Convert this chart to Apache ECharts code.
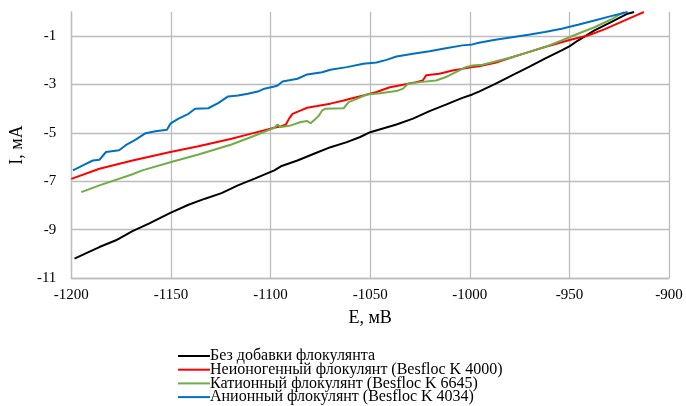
<!DOCTYPE html>
<html>
<head>
<meta charset="utf-8">
<script src="https://cdn.jsdelivr.net/npm/echarts@6/dist/echarts.min.js"></script>
<style>
html,body{margin:0;padding:0;background:#fff;}
#chart{width:686px;height:406px;}
</style>
</head>
<body>
<div id="chart"></div>
<script>
const seriesNames = [
  'Без добавки флокулянта',
  'Неионогенный флокулянт (Besfloc K 4000)',
  'Катионный флокулянт (Besfloc K 6645)',
  'Анионный флокулянт (Besfloc K 4034)'
];
const xTitle = 'E, мВ';
const yTitle = 'I, мА';

const blackE = [-1198.4,-1192.5,-1185.9,-1177.6,-1169.3,-1161.1,-1150.3,-1141.2,-1132.9,-1124.6,-1116.4,-1108,-1098.1,-1094.8,-1086.5,-1078.2,-1069.9,-1061.7,-1055,-1050,-1036.8,-1028.5,-1020.2,-1012,-1003.7,-998.7,-995.4,-987.2,-978.8,-970.5,-962.3,-953.9,-949.8,-945.7,-937.4,-929.1,-920.8,-917.5];
const blackI = [-10.20,-9.97,-9.72,-9.44,-9.06,-8.75,-8.31,-7.97,-7.72,-7.49,-7.17,-6.89,-6.55,-6.38,-6.14,-5.86,-5.59,-5.38,-5.17,-4.97,-4.65,-4.41,-4.10,-3.83,-3.55,-3.41,-3.29,-2.97,-2.62,-2.28,-1.93,-1.59,-1.41,-1.18,-0.76,-0.42,-0.07,0.0];

const redE = [-1200,-1185.9,-1169.3,-1150.3,-1136.2,-1119.6,-1109.7,-1098.1,-1094.8,-1092.3,-1090.7,-1089,-1084.8,-1081.6,-1076.6,-1070,-1063.3,-1060,-1053.4,-1046.8,-1040.1,-1033.5,-1026.9,-1023.6,-1021.9,-1015.3,-1008.7,-998.7,-995.4,-987.2,-978.8,-970.5,-962.3,-953.9,-949,-940.7,-932.5,-924.2,-915.9,-912.6];
const redI = [-6.90,-6.48,-6.14,-5.79,-5.55,-5.24,-5.03,-4.79,-4.73,-4.65,-4.41,-4.21,-4.07,-3.96,-3.89,-3.79,-3.66,-3.59,-3.45,-3.31,-3.11,-3.01,-2.90,-2.83,-2.62,-2.55,-2.42,-2.28,-2.24,-2.10,-1.87,-1.66,-1.45,-1.25,-1.14,-0.97,-0.72,-0.42,-0.12,0.0];

const greenE = [-1195,-1185.9,-1169.3,-1164.4,-1150.3,-1136.2,-1119.6,-1109.7,-1098.1,-1096.5,-1094.8,-1089.8,-1084.8,-1081.6,-1079.9,-1077.3,-1075.7,-1074.1,-1072.4,-1063.3,-1060.8,-1056.7,-1051.7,-1045.1,-1036.8,-1033.5,-1031,-1025.2,-1016.9,-1012,-1007,-1002,-998.7,-993.7,-987.2,-978.8,-970.5,-962.3,-953.9,-945.7,-937.4,-929.1,-922.5];
const greenI = [-7.45,-7.17,-6.71,-6.55,-6.21,-5.89,-5.48,-5.17,-4.79,-4.65,-4.76,-4.69,-4.55,-4.51,-4.60,-4.41,-4.28,-4.07,-4.00,-3.98,-3.73,-3.59,-3.41,-3.36,-3.27,-3.17,-2.97,-2.90,-2.83,-2.69,-2.49,-2.28,-2.21,-2.18,-2.05,-1.87,-1.66,-1.45,-1.18,-0.90,-0.63,-0.31,0.0];

const blueE = [-1199.2,-1194.2,-1189.2,-1185.9,-1182.6,-1176,-1172.7,-1167.7,-1162.7,-1157.8,-1152,-1150.3,-1146.2,-1141.2,-1137.9,-1131.3,-1126.3,-1121.3,-1116.3,-1111.4,-1106.4,-1103.1,-1098.1,-1096.5,-1094,-1086.5,-1081.6,-1074.1,-1070,-1061.7,-1053.4,-1046.8,-1041.8,-1036.8,-1028.5,-1020.2,-1012,-1003.7,-998.7,-995.4,-987.2,-978.8,-970.5,-962.3,-953.9,-945.7,-937.4,-929.1,-920.8];
const blueI = [-6.55,-6.34,-6.14,-6.11,-5.79,-5.72,-5.51,-5.28,-5.01,-4.93,-4.87,-4.62,-4.41,-4.21,-4.00,-3.98,-3.77,-3.49,-3.45,-3.38,-3.29,-3.17,-3.08,-3.04,-2.87,-2.76,-2.58,-2.49,-2.39,-2.28,-2.14,-2.09,-1.98,-1.84,-1.73,-1.62,-1.50,-1.38,-1.34,-1.27,-1.15,-1.04,-0.94,-0.83,-0.69,-0.53,-0.35,-0.17,0.0];

const colors = ['#000000', '#FF0000', '#70AD47', '#0070C0'];
const xs = [blackE, redE, greenE, blueE];
const ys = [blackI, redI, greenI, blueI];

function pairs(a, b) { return a.map((v, i) => [v, b[i]]); }

const FONT = "'Liberation Serif', 'Times New Roman', serif";
const GRID = '#BDBDBD';
const legendTops = [348, 361.7, 375.4, 389.1];

const chart = echarts.init(document.getElementById('chart'), null, {renderer: 'canvas'});
chart.setOption({
  animation: false,
  backgroundColor: '#ffffff',
  textStyle: {fontFamily: FONT},
  grid: {left: 65, right: 17, top: 12, bottom: 128, containLabel: false},
  legend: seriesNames.map((n, i) => ({
    orient: 'vertical',
    left: 178,
    top: legendTops[i],
    padding: 0,
    itemGap: 0,
    itemWidth: 32,
    itemHeight: 14,
    icon: 'path://M0,6 L32,6 L32,8 L0,8 Z',
    selectedMode: false,
    textStyle: {fontFamily: FONT, fontSize: 16, color: '#000', padding: [0,0,0,-5]},
    data: [n]
  })),
  xAxis: {
    type: 'value',
    min: -1200, max: -900, interval: 50,
    name: xTitle,
    nameLocation: 'middle',
    nameGap: 31,
    nameTextStyle: {fontFamily: FONT, fontSize: 18, color: '#000'},
    axisLine: {show: true, onZero: false, lineStyle: {color: GRID, width: 1.3}},
    axisTick: {show: false},
    axisLabel: {fontFamily: FONT, fontSize: 15, color: '#000', margin: 10, formatter: v => String(v)},
    splitLine: {show: true, lineStyle: {color: GRID, width: 1.3}}
  },
  yAxis: {
    type: 'value',
    min: -11, max: 0, interval: 2,
    name: yTitle,
    nameLocation: 'middle',
    nameGap: 40,
    nameTextStyle: {fontFamily: FONT, fontSize: 18, color: '#000'},
    axisLine: {show: true, onZero: false, lineStyle: {color: GRID, width: 1.3}},
    axisTick: {show: false},
    axisLabel: {fontFamily: FONT, fontSize: 15, color: '#000', margin: 15, showMaxLabel: false,
      formatter: v => (v === 0 ? '' : String(v))},
    splitLine: {show: true, showMaxLine: false, lineStyle: {color: GRID, width: 1.3}}
  },
  series: seriesNames.map((n, k) => ({
    name: n,
    type: 'line',
    data: pairs(xs[k], ys[k]),
    showSymbol: false,
    symbol: 'none',
    clip: true,
    z: 2 + k,
    color: colors[k],
    lineStyle: {color: colors[k], width: 2}
  }))
});
</script>
</body>
</html>
